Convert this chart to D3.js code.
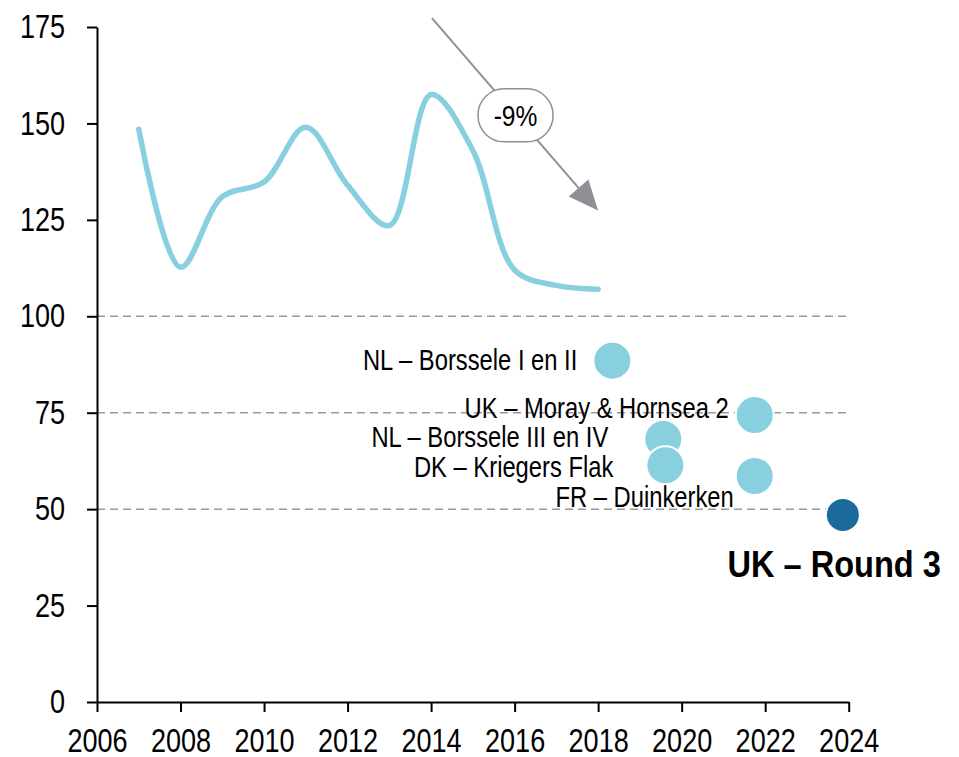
<!DOCTYPE html>
<html>
  <head>
    <meta charset='utf-8' />
    <title>Cost index</title>
    <style>
      body {
        margin: 0;
        background-color: #ffffff;
      }
      svg {
        display: block;
        font-family: "Liberation Sans Narrow", "Arial Narrow", "Liberation Sans", sans-serif;
      }
      .axis path, .axis line {
        stroke: #000;
        stroke-width: 2px;
      }
      .axis text {
        font-size: 33px;
        fill: #000;
        font-family: "Liberation Sans Narrow", "Arial Narrow", "Liberation Sans", sans-serif;
      }
      .grid {
        stroke: #999a9e;
        stroke-width: 1.5px;
        stroke-dasharray: 8 5;
      }
      .trend {
        fill: none;
        stroke: #88cfe0;
        stroke-width: 5.5px;
        stroke-linecap: round;
      }
      .label {
        font-size: 29px;
        fill: #000;
      }
      .label.big {
        font-size: 37px;
        font-weight: bold;
      }
    </style>
  </head>

<body>
  <svg id="chart" width="959" height="757"></svg>

  <script src="https://d3js.org/d3.v7.min.js"></script>
  <script>
    // line series (index level per year)
    const years = [2007, 2008, 2009, 2010, 2011, 2012, 2013, 2014, 2015, 2016, 2017, 2018];
    const levels = [148.5, 112.7, 131, 134.8, 149, 134, 123.5, 157.5, 143, 112, 108, 107];

    // individual projects
    const projects = ["NL – Borssele I en II", "UK – Moray & Hornsea 2", "NL – Borssele III en IV",
                      "DK – Kriegers Flak", "FR – Duinkerken", "UK – Round 3"];
    const projectYears = [2018.34, 2021.75, 2019.56, 2019.61, 2021.75, 2023.86];
    const projectValues = [88.5, 74.4, 68.2, 61.4, 58.6, 48.5];

    // axes
    const xTicks = [2006, 2008, 2010, 2012, 2014, 2016, 2018, 2020, 2022, 2024];
    const yTicks = [0, 25, 50, 75, 100, 125, 150, 175];
    const gridValues = [50, 75, 100];

    // annotation: arrow from / to (year, value) and its label
    const arrowFrom = [2014.02, 177.3];
    const arrowTo = [2018.0, 127.4];
    const arrowLabel = "-9%";

    // label placement relative to each dot (pixels)
    const labelOffsets = [[-35, 9], [-26, 3], [-55, 8], [-52, 12], [-21, 31], [98, 62]];

    const svg = d3.select("#chart");

    const xScale = d3.scaleLinear().domain([2006, 2024]).range([97, 848.7]);
    const yScale = d3.scaleLinear().domain([0, 175]).range([702, 27]);

    // no narrow font installed: squeeze text horizontally around its anchor point
    function narrow(sel, k) {
      sel.each(function() {
        const t = d3.select(this);
        const x = +t.attr("x") || 0, y = +t.attr("y") || 0;
        const kk = typeof k === "function" ? k.apply(this, arguments) : k;
        t.attr("transform", "translate(" + x + "," + y + ") scale(" + kk + ",1) translate(" + (-x) + "," + (-y) + ")");
      });
    }

    // dashed gridlines
    svg.selectAll(".grid")
       .data(gridValues)
       .enter()
       .append("line")
       .attr("class", "grid")
       .attr("x1", xScale(2006))
       .attr("x2", xScale(2024))
       .attr("y1", d => yScale(d))
       .attr("y2", d => yScale(d));

    // axes
    svg.append("g")
       .attr("class", "axis")
       .attr("transform", "translate(" + xScale(2006) + ",0)")
       .call(d3.axisLeft(yScale).tickValues(yTicks).tickSize(10).tickSizeOuter(0).tickPadding(22))
       .selectAll("text").call(narrow, 0.82);

    svg.append("g")
       .attr("class", "axis")
       .attr("transform", "translate(0," + yScale(0) + ")")
       .call(d3.axisBottom(xScale).tickValues(xTicks).tickFormat(d3.format("d"))
               .tickSize(10).tickSizeOuter(0).tickPadding(17))
       .selectAll("text").call(narrow, 0.82);

    // smoothed line
    const line = d3.line()
                   .x((d, i) => xScale(years[i]))
                   .y(d => yScale(d))
                   .curve(d3.curveCatmullRom.alpha(0.5));

    svg.append("path")
       .datum(levels)
       .attr("class", "trend")
       .attr("d", line);

    // arrow annotation
    const ax1 = xScale(arrowFrom[0]), ay1 = yScale(arrowFrom[1]);
    const ax2 = xScale(arrowTo[0]), ay2 = yScale(arrowTo[1]);
    const ang = Math.atan2(ay2 - ay1, ax2 - ax1);
    const headLen = 30, headHalf = 13;
    const bx = ax2 - headLen * Math.cos(ang), by = ay2 - headLen * Math.sin(ang);

    svg.append("line")
       .attr("x1", ax1).attr("y1", ay1)
       .attr("x2", bx).attr("y2", by)
       .attr("stroke", "#8e9096")
       .attr("stroke-width", 2);

    svg.append("path")
       .attr("d", "M" + ax2 + "," + ay2 +
                  "L" + (bx + headHalf * Math.sin(ang)) + "," + (by - headHalf * Math.cos(ang)) +
                  "L" + (bx - headHalf * Math.sin(ang)) + "," + (by + headHalf * Math.cos(ang)) + "Z")
       .attr("fill", "#8e9096");

    const lx = (ax1 + ax2) / 2 + 0.5, ly = (ay1 + ay2) / 2 + 1;
    svg.append("rect")
       .attr("x", lx - 37.5).attr("y", ly - 26.5)
       .attr("width", 75).attr("height", 53)
       .attr("rx", 26).attr("ry", 26)
       .attr("fill", "#fff")
       .attr("stroke", "#8e9096")
       .attr("stroke-width", 1.5);

    svg.append("text")
       .attr("x", lx).attr("y", ly + 11)
       .attr("text-anchor", "middle")
       .style("font-size", "30px")
       .text(arrowLabel)
       .call(narrow, 0.82);

    // project labels
    svg.selectAll(".label")
       .data(projects)
       .enter()
       .append("text")
       .attr("class", (d, i) => i == projects.length - 1 ? "label big" : "label")
       .attr("x", (d, i) => xScale(projectYears[i]) + labelOffsets[i][0])
       .attr("y", (d, i) => yScale(projectValues[i]) + labelOffsets[i][1])
       .attr("text-anchor", "end")
       .text(d => d)
       .call(narrow, (d, i) => i == projects.length - 1 ? 0.88 : 0.82);

    // project dots
    svg.selectAll(".dot")
       .data(projects)
       .enter()
       .append("circle")
       .attr("class", "dot")
       .attr("cx", (d, i) => xScale(projectYears[i]))
       .attr("cy", (d, i) => yScale(projectValues[i]))
       .attr("r", (d, i) => i == projects.length - 1 ? 17 : 19)
       .attr("fill", (d, i) => i == projects.length - 1 ? "#1a6b9b" : "#88cfe0")
       .attr("stroke", "#fff")
       .attr("stroke-width", 2);
  </script>
</body>
